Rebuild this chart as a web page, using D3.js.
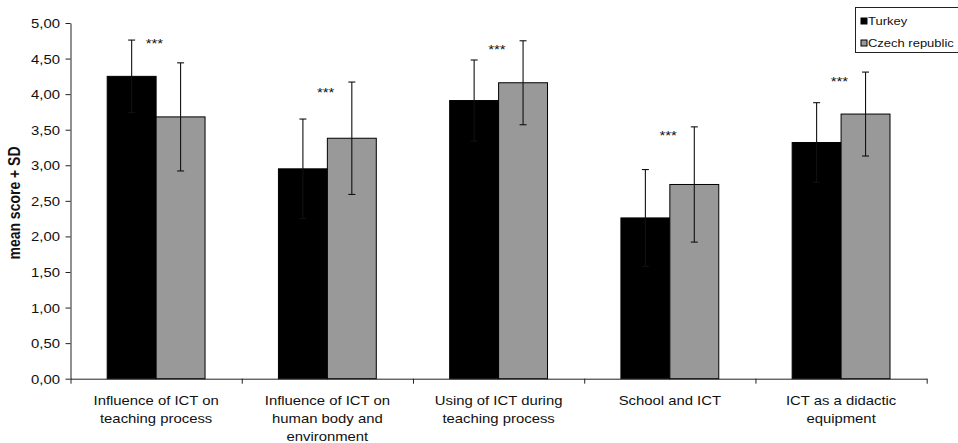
<!DOCTYPE html>
<html>
<head>
<meta charset="utf-8">
<script src="https://cdn.jsdelivr.net/npm/d3@7"></script>
<style>
  html, body { margin: 0; padding: 0; background: #fff; }
  svg { display: block; }
  text { font-family: "Liberation Sans", Arial, sans-serif; fill: #111; }
</style>
</head>
<body>
<svg id="chart" width="958" height="443"></svg>
<script>
// Survey areas (label lines as shown under each group)
const categories = [
  ["Influence of ICT on", "teaching process"],
  ["Influence of ICT on", "human body and", "environment"],
  ["Using of ICT during", "teaching process"],
  ["School and ICT"],
  ["ICT as a didactic", "equipment"]
];
const seriesNames = ["Turkey", "Czech republic"];
const turkeyMean = [4.25, 2.95, 3.91, 2.26, 3.32];
const turkeySD   = [0.51, 0.70, 0.57, 0.68, 0.56];
const czechMean  = [3.68, 3.38, 4.16, 2.73, 3.72];
const czechSD    = [0.76, 0.79, 0.59, 0.81, 0.59];
const significance = ["***", "***", "***", "***", "***"];
const starLevel    = [4.75, 4.06, 4.66, 3.45, 4.21];
const yTicks = [0, 0.5, 1, 1.5, 2, 2.5, 3, 3.5, 4, 4.5, 5];
const yTitle = "mean score + SD";

const seriesColors = ["#000000", "#999999"];
const means = [turkeyMean, czechMean];
const sds = [turkeySD, czechSD];

const W = 958, H = 443;
const plot = { left: 70.5, right: 926.7, top: 23, bottom: 378.7 };
const SX = 1.18;      // horizontal stretch of the lettering
const FS = 12.6;      // base font size

const svg = d3.select("#chart");
svg.append("rect").attr("width", W).attr("height", H).attr("fill", "#fff");

const idx = d3.range(categories.length);
const x = d3.scaleBand().domain(idx).range([plot.left, plot.right]).paddingInner(0).paddingOuter(0);
const xs = d3.scaleBand().domain(d3.range(seriesNames.length)).range([0, x.bandwidth()]).paddingInner(0).paddingOuter(0.75);
const y = d3.scaleLinear().domain([0, 5]).range([plot.bottom, plot.top]);

const locale = d3.formatLocale({ decimal: ",", thousands: " ", grouping: [3], currency: ["", ""] });
const fmt = locale.format(".2f");

// Bars
const groups = svg.append("g").selectAll("g").data(idx).join("g")
  .attr("transform", i => `translate(${x(i)},0)`);

groups.selectAll("rect.bar")
  .data(i => seriesNames.map((s, k) => ({ k, v: means[k][i], sd: sds[k][i] })))
  .join("rect").attr("class", "bar")
  .attr("x", d => xs(d.k))
  .attr("y", d => y(d.v))
  .attr("width", xs.bandwidth())
  .attr("height", d => y(0) - y(d.v))
  .attr("fill", d => seriesColors[d.k])
  .attr("stroke", "#000").attr("stroke-width", 1);

// Error bars (mean ± SD)
const eb = groups.selectAll("g.err")
  .data(i => seriesNames.map((s, k) => ({ k, v: means[k][i], sd: sds[k][i] })))
  .join("g").attr("class", "err")
  .attr("stroke", "#111").attr("stroke-width", 1.1);
const cx = d => xs(d.k) + xs.bandwidth() / 2;
eb.append("line").attr("x1", cx).attr("x2", cx)
  .attr("y1", d => y(d.v + d.sd)).attr("y2", d => y(d.v - d.sd));
eb.append("line").attr("x1", d => cx(d) - 3.5).attr("x2", d => cx(d) + 3.5)
  .attr("y1", d => y(d.v + d.sd)).attr("y2", d => y(d.v + d.sd));
eb.append("line").attr("x1", d => cx(d) - 3.5).attr("x2", d => cx(d) + 3.5)
  .attr("y1", d => y(d.v - d.sd)).attr("y2", d => y(d.v - d.sd));

// Significance marks
svg.append("g").selectAll("text").data(idx).join("text")
  .attr("transform", i => `translate(${x(i) + x.bandwidth() * 0.49},${y(starLevel[i]) + FS * 0.57}) scale(${SX},1)`)
  .attr("text-anchor", "middle")
  .attr("font-size", FS)
  .text(i => significance[i]);

// Y axis
const yAxis = svg.append("g").attr("transform", `translate(${plot.left},0)`)
  .call(d3.axisLeft(y).tickValues(yTicks).tickFormat(fmt).tickSize(5).tickSizeOuter(0));
yAxis.select(".domain").attr("stroke", "#222");
yAxis.selectAll(".tick line").attr("stroke", "#222");
yAxis.selectAll(".tick text")
  .attr("font-size", FS).attr("font-family", "Liberation Sans, Arial, sans-serif").attr("fill", "#111")
  .attr("x", -10.5 / SX).attr("dy", "0.36em")
  .attr("transform", `scale(${SX},1)`);

// X axis: ticks at group boundaries
const xEdge = d3.scaleLinear().domain([0, categories.length]).range([plot.left, plot.right]);
const xAxis = svg.append("g").attr("transform", `translate(0,${plot.bottom})`)
  .call(d3.axisBottom(xEdge).tickValues(d3.range(categories.length + 1)).tickFormat("").tickSize(5).tickSizeOuter(0));
xAxis.select(".domain").attr("stroke", "#222");
xAxis.selectAll(".tick line").attr("stroke", "#222");

// Category labels
const lab = svg.append("g").selectAll("text").data(idx).join("text")
  .attr("transform", i => `translate(${x(i) + x.bandwidth() / 2},405) scale(${SX},1)`)
  .attr("text-anchor", "middle").attr("font-size", FS);
lab.selectAll("tspan").data(i => categories[i]).join("tspan")
  .attr("x", 0).attr("y", (d, j) => j * 18).text(d => d);

// Y axis title
svg.append("text")
  .attr("transform", `translate(20,203) scale(${SX},1) rotate(-90)`)
  .attr("text-anchor", "middle").attr("font-size", 14).attr("font-weight", "bold")
  .text(yTitle);

// Legend
const lg = svg.append("g").attr("transform", "translate(855.5,7.5)");
lg.append("rect").attr("width", 130).attr("height", 45).attr("fill", "#fff").attr("stroke", "#222");
const li = lg.selectAll("g.item").data(seriesNames).join("g").attr("class", "item")
  .attr("transform", (d, k) => `translate(0,${k * 22})`);
li.append("rect").attr("x", 5.5).attr("y", 10.5).attr("width", 6).attr("height", 6)
  .attr("fill", (d, k) => seriesColors[k]).attr("stroke", "#000");
li.append("text").attr("transform", "translate(12.5,17.5) scale(1.1,1)")
  .attr("font-size", 11.8).text(d => d);
</script>
</body>
</html>
